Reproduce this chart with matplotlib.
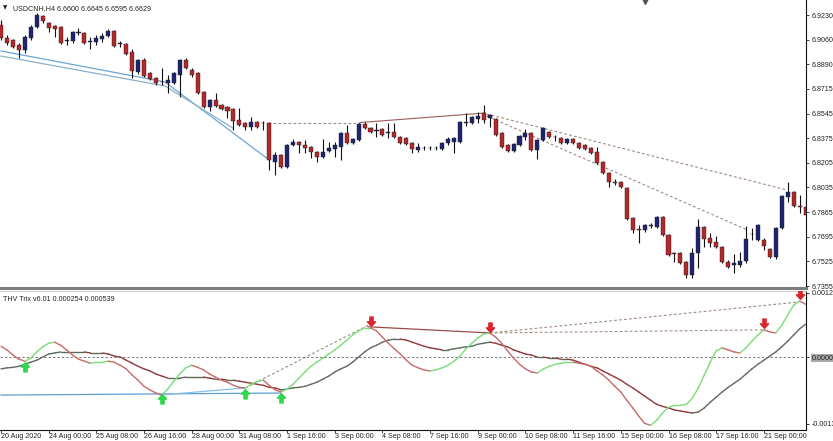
import numpy as np
import matplotlib.pyplot as plt
from matplotlib.patches import Rectangle
from matplotlib.collections import LineCollection
from matplotlib.path import Path

# USDCNH H4 candles, bar 0 = 20 Aug 2020
opens = [6.9161, 6.9071, 6.9057, 6.9022, 6.8988, 6.9071, 6.9147, 6.9223, 6.9175, 6.9154,
         6.9147, 6.9050, 6.9050, 6.9105, 6.9105, 6.9043, 6.9043, 6.9064, 6.9085, 6.9119,
         6.9029, 6.9029, 6.8974, 6.8836, 6.8919, 6.8829, 6.8794, 6.8767, 6.8760, 6.8760,
         6.8815, 6.8919, 6.8849, 6.8829, 6.8697, 6.8593, 6.8642, 6.8607, 6.8593, 6.8579,
         6.8503, 6.8483, 6.8455, 6.8490, 6.8480, 6.8483, 6.8213, 6.8261, 6.8178, 6.8330,
         6.8351, 6.8330, 6.8317, 6.8282, 6.8247, 6.8289, 6.8303, 6.8317, 6.8413, 6.8344,
         6.8365, 6.8476, 6.8448, 6.8427, 6.8441, 6.8413, 6.8420, 6.8386, 6.8379, 6.8344,
         6.8296, 6.8310, 6.8307, 6.8310, 6.8303, 6.8344, 6.8351, 6.8351, 6.8483, 6.8483,
         6.8510, 6.8552, 6.8517, 6.8510, 6.8413, 6.8330, 6.8289, 6.8330, 6.8386, 6.8413,
         6.8296, 6.8365, 6.8420, 6.8386, 6.8379, 6.8344, 6.8372, 6.8344, 6.8330, 6.8310,
         6.8282, 6.8213, 6.8137, 6.8074, 6.8074, 6.8033, 6.7825, 6.7749, 6.7742, 6.7770,
         6.7763, 6.7832, 6.7708, 6.7580, 6.7583, 6.7521, 6.7431, 6.7583, 6.7763, 6.7687,
         6.7659, 6.7624, 6.7521, 6.7500, 6.7500, 6.7528, 6.7715, 6.7673, 6.7673, 6.7611,
         6.7555, 6.7756, 6.7971, 6.8005, 6.7908, 6.7901]
highs = [6.9195, 6.9092, 6.9064, 6.9036, 6.9092, 6.9161, 6.9244, 6.9230, 6.9182, 6.9161,
         6.9154, 6.9078, 6.9119, 6.9140, 6.9112, 6.9078, 6.9092, 6.9105, 6.9133, 6.9126,
         6.9050, 6.9036, 6.8995, 6.8926, 6.8933, 6.8836, 6.8801, 6.8863, 6.8815, 6.8836,
         6.8926, 6.8933, 6.8863, 6.8836, 6.8704, 6.8649, 6.8690, 6.8614, 6.8600, 6.8586,
         6.8586, 6.8490, 6.8524, 6.8497, 6.8497, 6.8490, 6.8282, 6.8268, 6.8337, 6.8372,
         6.8358, 6.8365, 6.8323, 6.8289, 6.8372, 6.8351, 6.8351, 6.8420, 6.8469, 6.8379,
         6.8483, 6.8490, 6.8455, 6.8483, 6.8448, 6.8483, 6.8483, 6.8393, 6.8386, 6.8351,
         6.8344, 6.8323, 6.8323, 6.8323, 6.8351, 6.8386, 6.8386, 6.8497, 6.8552, 6.8531,
         6.8559, 6.8607, 6.8545, 6.8517, 6.8420, 6.8337, 6.8344, 6.8400, 6.8441, 6.8420,
         6.8372, 6.8455, 6.8427, 6.8400, 6.8386, 6.8379, 6.8379, 6.8351, 6.8337, 6.8317,
         6.8317, 6.8220, 6.8144, 6.8095, 6.8081, 6.8040, 6.7832, 6.7777, 6.7784, 6.7791,
         6.7839, 6.7839, 6.7715, 6.7590, 6.7590, 6.7528, 6.7618, 6.7818, 6.7770, 6.7721,
         6.7701, 6.7631, 6.7535, 6.7576, 6.7590, 6.7770, 6.7756, 6.7784, 6.7687, 6.7618,
         6.7763, 6.7984, 6.8074, 6.8012, 6.7984, 6.7950]
lows = [6.9057, 6.9022, 6.9002, 6.8933, 6.8967, 6.9057, 6.9140, 6.9175, 6.9112, 6.9078,
        6.9029, 6.9022, 6.9036, 6.9092, 6.9029, 6.8995, 6.9022, 6.9043, 6.9078, 6.9009,
        6.9009, 6.8953, 6.8794, 6.8822, 6.8801, 6.8780, 6.8746, 6.8746, 6.8690, 6.8753,
        6.8663, 6.8856, 6.8801, 6.8683, 6.8586, 6.8566, 6.8593, 6.8573, 6.8517, 6.8434,
        6.8462, 6.8434, 6.8434, 6.8448, 6.8434, 6.8157, 6.8123, 6.8171, 6.8171, 6.8323,
        6.8275, 6.8275, 6.8240, 6.8213, 6.8240, 6.8282, 6.8247, 6.8227, 6.8337, 6.8337,
        6.8358, 6.8441, 6.8413, 6.8386, 6.8393, 6.8379, 6.8379, 6.8337, 6.8330, 6.8275,
        6.8282, 6.8296, 6.8296, 6.8296, 6.8296, 6.8330, 6.8275, 6.8344, 6.8462, 6.8476,
        6.8483, 6.8483, 6.8455, 6.8393, 6.8310, 6.8282, 6.8282, 6.8323, 6.8365, 6.8289,
        6.8233, 6.8358, 6.8379, 6.8358, 6.8337, 6.8337, 6.8337, 6.8303, 6.8296, 6.8268,
        6.8199, 6.8130, 6.8040, 6.8054, 6.8033, 6.7811, 6.7721, 6.7652, 6.7728, 6.7756,
        6.7756, 6.7701, 6.7562, 6.7521, 6.7507, 6.7410, 6.7410, 6.7479, 6.7624, 6.7624,
        6.7618, 6.7514, 6.7479, 6.7445, 6.7486, 6.7514, 6.7673, 6.7666, 6.7604, 6.7548,
        6.7541, 6.7749, 6.7936, 6.7901, 6.7860, 6.7839]
closes = [6.9071, 6.9036, 6.9009, 6.8988, 6.9078, 6.9147, 6.9230, 6.9188, 6.9140, 6.9133,
          6.9036, 6.9057, 6.9112, 6.9109, 6.9036, 6.9047, 6.9071, 6.9085, 6.9119, 6.9015,
          6.9033, 6.8960, 6.8842, 6.8919, 6.8808, 6.8787, 6.8760, 6.8764, 6.8780, 6.8829,
          6.8919, 6.8863, 6.8815, 6.8690, 6.8593, 6.8642, 6.8600, 6.8579, 6.8566, 6.8497,
          6.8469, 6.8455, 6.8490, 6.8455, 6.8483, 6.8227, 6.8261, 6.8178, 6.8330, 6.8351,
          6.8330, 6.8310, 6.8282, 6.8247, 6.8282, 6.8310, 6.8330, 6.8413, 6.8344, 6.8372,
          6.8476, 6.8448, 6.8420, 6.8434, 6.8400, 6.8420, 6.8386, 6.8344, 6.8337, 6.8303,
          6.8317, 6.8307, 6.8310, 6.8307, 6.8344, 6.8372, 6.8379, 6.8490, 6.8490, 6.8524,
          6.8531, 6.8503, 6.8538, 6.8400, 6.8317, 6.8289, 6.8337, 6.8393, 6.8413, 6.8296,
          6.8365, 6.8448, 6.8386, 6.8383, 6.8344, 6.8372, 6.8344, 6.8310, 6.8303, 6.8275,
          6.8206, 6.8137, 6.8074, 6.8070, 6.8040, 6.7818, 6.7742, 6.7745, 6.7777, 6.7780,
          6.7832, 6.7708, 6.7569, 6.7576, 6.7514, 6.7431, 6.7583, 6.7763, 6.7680, 6.7652,
          6.7624, 6.7521, 6.7486, 6.7514, 6.7528, 6.7680, 6.7718, 6.7777, 6.7631, 6.7555,
          6.7756, 6.7977, 6.8005, 6.7908, 6.7904, 6.7846]

# THV Trix lines, in units of 1e-5
trix_fast = np.array([21, 14, 4, -4, -8, -2, 10, 20, 27, 29, 23, 14, 4, -4, -8, -12, -10, -10, -8, -10,
                      -16, -23, -35, -45, -57, -64, -70, -74, -62, -47, -33, -21, -16, -20, -25, -33, -39, -45, -49, -55,
                      -59, -60, -53, -47, -45, -55, -64, -68, -62, -53, -41, -29, -18, -10, -2, 6, 14, 23, 33, 43,
                      51, 57, 57, 51, 39, 27, 16, 6, -6, -16, -21, -25, -27, -25, -21, -16, -8, 2, 16, 27,
                      37, 45, 47, 39, 27, 12, -2, -14, -23, -29, -31, -23, -18, -14, -12, -10, -10, -12, -14, -18,
                      -27, -35, -45, -57, -68, -84, -99, -115, -129, -133, -123, -109, -98, -94, -94, -92, -80, -60, -35, -10,
                      12, 18, 14, 10, 8, 18, 31, 43, 53, 49, 47, 62, 82, 101, 109, 103]) * 1e-5
trix_slow = np.array([-23, -21, -20, -18, -14, -10, -6, 0, 6, 8, 10, 10, 10, 10, 10, 8, 8, 8, 6, 2,
                      0, -6, -12, -18, -23, -27, -33, -37, -41, -41, -41, -39, -39, -39, -39, -41, -43, -43, -45, -45,
                      -47, -49, -51, -53, -55, -59, -60, -64, -62, -60, -59, -57, -53, -49, -43, -37, -29, -23, -18, -10,
                      0, 10, 18, 23, 29, 33, 35, 35, 33, 29, 25, 21, 18, 16, 14, 14, 16, 18, 20, 21,
                      25, 27, 29, 27, 23, 20, 14, 10, 6, 4, 0, 0, -2, -2, -4, -4, -6, -10, -14, -18,
                      -21, -27, -33, -39, -45, -53, -60, -68, -76, -84, -92, -96, -99, -103, -105, -107, -109, -107, -99, -88,
                      -78, -68, -59, -51, -43, -33, -23, -14, -6, 2, 10, 20, 31, 43, 55, 64]) * 1e-5

date_labels = ["20 Aug 2020", "24 Aug 00:00", "25 Aug 08:00", "26 Aug 16:00", "28 Aug 00:00",
               "31 Aug 08:00", "1 Sep 16:00", "3 Sep 00:00", "4 Sep 08:00", "7 Sep 16:00",
               "9 Sep 00:00", "10 Sep 08:00", "11 Sep 16:00", "15 Sep 00:00", "16 Sep 08:00",
               "17 Sep 16:00", "21 Sep 00:00"]
price_labels = ["6.7355", "6.7525", "6.7695", "6.7865", "6.8035", "6.8205",
                "6.8375", "6.8545", "6.8715", "6.8890", "6.9060", "6.9230"]

# signal arrows (bar, value)
up_bars = [4, 27, 41, 47]
up_vals = [-0.00020, -0.00082, -0.00071, -0.00080]
down_bars = [62, 82, 128, 134]
down_vals = [0.00071, 0.00059, 0.00066, 0.00122]

# trend lines drawn by the indicator: (bar, price/value) pairs
price_blue_1 = ([0, 27.5, 45.0], [6.8981, 6.8767, 6.8227])
price_blue_2 = ([0, 27.5, 38.9], [6.8946, 6.8739, 6.8448])
price_flat_dash = ([44.8, 60.2], [6.8486, 6.8486])
price_red_solid = ([60.2, 81.2], [6.8486, 6.8552])
price_dash_1 = ([81.5, 131.9], [6.8545, 6.8019])
price_dash_2 = ([81.5, 125.3], [6.8531, 6.7742])
ind_blue_flat = ([0, 47], [-0.00074, -0.00070])
ind_blue_up = ([26.7, 41], [-0.00074, -0.00060])
ind_dash_up = ([41, 61.6], [-0.00060, 0.00062])
ind_red_solid = ([61.6, 82], [0.00059, 0.00047])
ind_dash_flat = ([82, 127.9], [0.00047, 0.00053])
ind_dash_rise = ([82, 133.6], [0.00047, 0.00107])

shift_bar = 108  # chart shift marker at the top

n = len(opens)
font = 'Liberation Sans'
fs = 5.1

fig = plt.figure(figsize=(8.33, 4.41), dpi=100)
ax1 = fig.add_axes([0, 1 - 288 / 441, 806 / 833, 288 / 441])
ax2 = fig.add_axes([0, 1 - 430 / 441, 806 / 833, 139 / 441])

# ---- price panel ----
for i in range(n):
    o, h, l, c = opens[i], highs[i], lows[i], closes[i]
    ax1.vlines(i, l, h, color='#111111', lw=0.8, zorder=2)
    if abs(c - o) < 0.00012:
        ax1.hlines((o + c) / 2, i - 0.32, i + 0.32, color='#111111', lw=1.0, zorder=3)
        continue
    col = '#1d2470' if c > o else '#b3282a'
    ax1.add_patch(Rectangle((i - 0.34, min(o, c)), 0.68, abs(c - o),
                            facecolor=col, edgecolor='#222222', lw=0.3, zorder=3))

ax1.plot(*price_blue_1, color='#6aa6d6', lw=0.9, zorder=1)
ax1.plot(*price_blue_2, color='#8ab0c8', lw=0.9, zorder=1)
ax1.plot(*price_flat_dash, color='#a08a80', lw=0.8, ls=(0, (2.5, 2)), zorder=1)
ax1.plot(*price_red_solid, color='#9c5a5a', lw=0.8, zorder=1)
ax1.plot(*price_dash_1, color='#a08a80', lw=0.8, ls=(0, (2.5, 2)), zorder=1)
ax1.plot(*price_dash_2, color='#a08a80', lw=0.8, ls=(0, (2.5, 2)), zorder=1)

ax1.plot([shift_bar], [0.995], transform=ax1.get_xaxis_transform(), marker='v', ms=4,
         color='#555555', ls='none', clip_on=False)

ax1.set_xlim(-0.17, 135.07)
ax1.set_ylim(6.73412, 6.93338)
ax1.set_yticks(np.linspace(6.7355, 6.9230, 12))
ax1.set_yticklabels(price_labels)
ax1.set_xticks([])
ax1.yaxis.tick_right()
ax1.tick_params(axis='y', direction='out', length=2.5, width=0.6, pad=1.5,
                labelsize=fs, colors='#222222')
for lab in ax1.get_yticklabels():
    lab.set_family(font)
for s in ['top', 'left']:
    ax1.spines[s].set_visible(False)
ax1.spines['right'].set_color('#111111')
ax1.spines['right'].set_linewidth(0.8)
ax1.spines['bottom'].set_color('#7d7d7d')
ax1.spines['bottom'].set_linewidth(2.2)

ax1.text(0.004, 0.972, '\u25bc', transform=ax1.transAxes, fontsize=4, family='DejaVu Sans',
         color='#222222', va='center', ha='left')
ax1.text(0.016, 0.972, 'USDCNH,H4 6.6600 6.6645 6.6595 6.6629', transform=ax1.transAxes,
         fontsize=fs, family=font, color='#222222', va='center', ha='left')

# ---- indicator panel ----
def colored_line(ax, vals, up_col, dn_col, lw):
    segs = [[(i - 1, vals[i - 1]), (i, vals[i])] for i in range(1, len(vals))]
    cols = [up_col if vals[i] >= vals[i - 1] else dn_col for i in range(1, len(vals))]
    ax.add_collection(LineCollection(segs, colors=cols, linewidths=lw, zorder=3,
                                     capstyle='round'))

ax2.axhline(0, color='#7a7a7a', lw=0.7, ls=(0, (2.5, 2)), zorder=1)
ax2.plot(*ind_blue_flat, color='#5c9fd3', lw=0.9, zorder=2)
ax2.plot(*ind_blue_up, color='#86c0e6', lw=0.9, zorder=2)
ax2.plot(*ind_dash_up, color='#a08a80', lw=0.8, ls=(0, (2.5, 2)), zorder=2)
ax2.plot(*ind_red_solid, color='#9c4a4a', lw=0.9, zorder=2)
ax2.plot(*ind_dash_flat, color='#a08a80', lw=0.8, ls=(0, (2.5, 2)), zorder=2)
ax2.plot(*ind_dash_rise, color='#a08a80', lw=0.8, ls=(0, (2.5, 2)), zorder=2)

colored_line(ax2, trix_slow, '#5d6b5d', '#8e3b3b', 1.0)
colored_line(ax2, trix_fast, '#79dd79', '#c86a6a', 1.0)

arrow_up = Path([(-0.22, -0.6), (0.22, -0.6), (0.22, 0.05), (0.55, 0.05), (0, 0.65),
                 (-0.55, 0.05), (-0.22, 0.05), (-0.22, -0.6)],
                [Path.MOVETO] + [Path.LINETO] * 6 + [Path.CLOSEPOLY])
arrow_dn = Path([(x, -y) for x, y in arrow_up.vertices], arrow_up.codes)
ax2.plot(up_bars, up_vals, ls='none', marker=arrow_up, ms=7, color='#2ed84a', zorder=4)
ax2.plot(down_bars, down_vals, ls='none', marker=arrow_dn, ms=7, color='#d8262c', zorder=4)

ax2.set_xlim(-0.17, 135.07)
ax2.set_ylim(-0.00142, 0.001287)
ax2.set_yticks([0.00125, 0.0, -0.0013])
ax2.set_yticklabels(['0.00125', '0.0000', '-0.0013'])
ax2.yaxis.tick_right()
ax2.tick_params(axis='y', direction='out', length=2.5, width=0.6, pad=1.5,
                labelsize=fs, colors='#222222')
ax2.get_yticklabels()[1].set_bbox(dict(facecolor='#a9a9a9', edgecolor='none', pad=0.6))
ax2.set_xticks(np.arange(0, n, 8)[:len(date_labels)])
ax2.set_xticklabels(date_labels)
ax2.tick_params(axis='x', direction='out', length=2, width=0.6, pad=0.3,
                labelsize=fs, colors='#222222')
for lab in ax2.get_xticklabels():
    lab.set_ha('left')
    lab.set_family(font)
for lab in ax2.get_yticklabels():
    lab.set_family(font)
ax2.spines['left'].set_visible(False)
ax2.spines['top'].set_color('#c4c4c4')
ax2.spines['top'].set_linewidth(0.6)
ax2.spines['right'].set_color('#111111')
ax2.spines['right'].set_linewidth(0.8)
ax2.spines['bottom'].set_color('#111111')
ax2.spines['bottom'].set_linewidth(0.8)

ax2.text(0.004, 0.965, 'THV Trix v6.01 0.000254 0.000539', transform=ax2.transAxes,
         fontsize=fs, family=font, color='#222222', va='top', ha='left')

fig.savefig('out.png', dpi=100)
